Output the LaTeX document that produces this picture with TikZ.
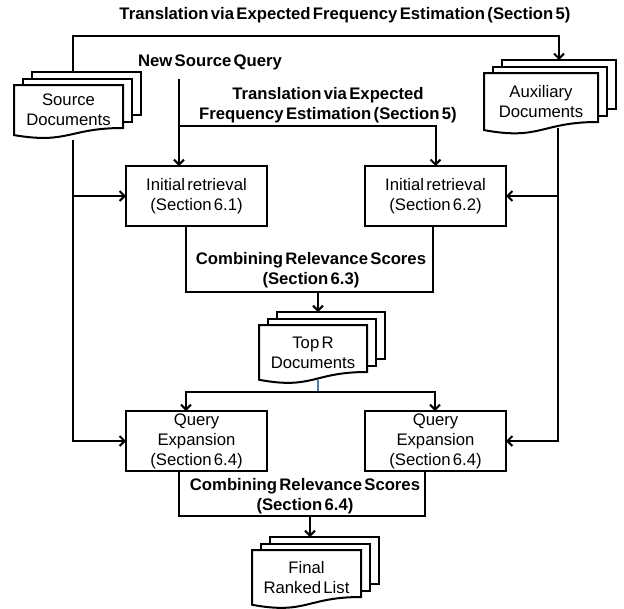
\documentclass[tikz,border=0pt]{standalone}
\usepackage{fontspec}
\setmainfont{Liberation Sans}[WordSpace=0.5]
\usetikzlibrary{arrows.meta,calc}
\definecolor{linkblue}{HTML}{4A7EBB}
\newcommand{\multidoc}[6]{%
  \node[sheet, minimum width=#4, minimum height=#5, anchor=north west] (#1-b) at (#2+18,#3-13) {};
  \node[sheet, minimum width=#4, minimum height=#5, anchor=north west] (#1-m) at (#2+9,#3-6.5) {};
  \draw[sheetline] (#2,#3) -- (#2+#4,#3) -- (#2+#4,#3+#5) .. controls (#2+#4/2,#3+#5) and (#2+#4/2,#3+1.38*#5) .. (#2,#3+1.165*#5) -- cycle;
  \node[doctxt, minimum width=#4, minimum height=1.165*#5, anchor=north west] (#1) at (#2,#3) {#6};
}
\begin{document}
\begin{tikzpicture}[x=1pt,y=-1pt,
  txt/.style={font=\fontsize{16.7}{20}\selectfont, align=center, inner sep=0pt, outer sep=0pt},
  btxt/.style={txt, font=\fontsize{16.7}{20}\selectfont\bfseries},
  doctxt/.style={txt},
  sheet/.style={draw, fill=white, line width=2pt, inner sep=0pt, outer sep=0pt},
  sheetline/.style={draw, fill=white, line width=2pt},
  procbox/.style={txt, draw, line width=2pt, minimum width=141, minimum height=60},
  link/.style={draw, line width=2pt},
  arrowed/.style={-{Straight Barb[length=5pt,width=10pt]}},
  arrowedboth/.style={{Straight Barb[length=5pt,width=10pt]}-{Straight Barb[length=5pt,width=10pt]}},
  blueline/.style={draw=linkblue, line width=2pt}]
\useasboundingbox (0,0) rectangle (624,608);

% documents
\multidoc{src}{14}{85}{109}{43}{Source\\Documents}
\multidoc{aux}{484}{73}{114}{49}{Auxiliary\\Documents}
\multidoc{topr}{259}{325}{108}{47}{Top R\\Documents}
\multidoc{fin}{252}{550}{109}{47}{Final\\Ranked List}

% labels and boxes
\node[btxt] (title) at (345,15) {Translation via Expected Frequency Estimation (Section 5)};
\node[btxt] (nsq) at (210,62) {New Source Query};
\node[btxt] (trans) at (328,105) {Translation via Expected\\Frequency Estimation (Section 5)};
\node[procbox] (ir1) at (196.5,196) {Initial retrieval\\(Section 6.1)};
\node[procbox] (ir2) at (435.5,196) {Initial retrieval\\(Section 6.2)};
\node[btxt] (comb1) at (311,270) {Combining Relevance Scores\\(Section 6.3)};
\node[procbox] (qe1) at (196.5,441) {Query\\Expansion\\(Section 6.4)};
\node[procbox] (qe2) at (435.5,441) {Query\\Expansion\\(Section 6.4)};
\node[btxt] (comb2) at (305,496) {Combining Relevance Scores\\(Section 6.4)};

% routing points
\coordinate (sx) at (73,36);
\coordinate (ax) at (559,36);
\coordinate (qtop) at (179,79);
\coordinate (qbr) at (179,126);
\coordinate (sdn) at (73,140);
\coordinate (adn) at (558,128);
\coordinate (c1l) at (186,292);
\coordinate (c1r) at (433,292);
\coordinate (c1m) at (318,292);
\coordinate (tm) at (318,392);
\coordinate (tl) at (186,392);
\coordinate (tr) at (435,392);
\coordinate (c2l) at (179,516);
\coordinate (c2r) at (425,516);
\coordinate (c2m) at (310,516);

% connectors
\draw[link,arrowed] (src-b.north -| sx) -- (sx) -- (ax) -- (aux-b.north -| ax);
\draw[link,arrowed] (qtop) -- (ir1.north -| qtop);
\draw[link,arrowed] (qbr) -| (ir2.north);
\draw[link,arrowed] (sdn) |- (qe1.west);
\draw[link,arrowed] (ir1.west -| sdn) -- (ir1.west);
\draw[link,arrowed] (adn) |- (qe2.east);
\draw[link,arrowed] (ir2.east -| adn) -- (ir2.east);
\draw[link] (ir1.south -| c1l) -- (c1l) -- (c1r) -- (ir2.south -| c1r);
\draw[link,arrowed] (c1m) -- (topr-b.north -| c1m);
\draw[blueline] (topr.south -| tm) -- (tm);
\draw[link,arrowedboth] (qe1.north -| tl) -- (tl) -- (tr) -- (qe2.north -| tr);
\draw[link] (qe1.south -| c2l) -- (c2l) -- (c2r) -- (qe2.south -| c2r);
\draw[link,arrowed] (c2m) -- (fin-b.north -| c2m);
\end{tikzpicture}
\end{document}
